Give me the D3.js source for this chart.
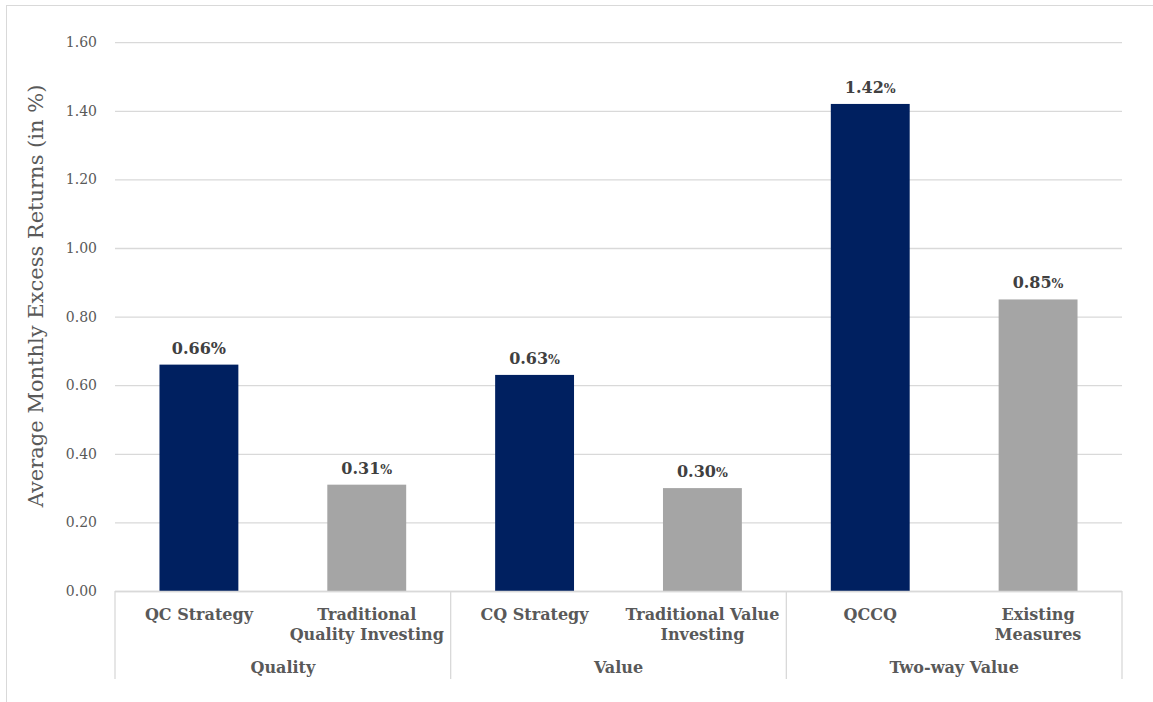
<!DOCTYPE html>
<html><head><meta charset="utf-8">
<script src="https://cdn.jsdelivr.net/npm/d3@7"></script>
<style>
html,body{margin:0;padding:0;background:#fff;}
svg text{font-family:"DejaVu Serif",Georgia,serif;}
</style></head>
<body><svg id="chart" width="1153" height="702"></svg>
<script>
const categories = ["QC Strategy", "Traditional Quality Investing", "CQ Strategy", "Traditional Value Investing", "QCCQ", "Existing Measures"];
const categoryLines = [["QC Strategy"], ["Traditional", "Quality Investing"], ["CQ Strategy"], ["Traditional Value", "Investing"], ["QCCQ"], ["Existing", "Measures"]];
const groups = ["Quality", "Value", "Two-way Value"];
const groupOf = ["Quality", "Quality", "Value", "Value", "Two-way Value", "Two-way Value"];
const values = [0.66, 0.31, 0.63, 0.30, 1.42, 0.85];
const seriesType = ["new", "old", "new", "old", "new", "old"];
const smallPct = [false, true, true, true, true, true];
const yTicks = [0, 0.2, 0.4, 0.6, 0.8, 1.0, 1.2, 1.4, 1.6];
const yTitle = "Average Monthly Excess Returns (in %)";

const colors = {new: "#002060", old: "#a5a5a5"};
const svg = d3.select("#chart");
const L = 115, R = 1122, T = 42.2, B = 591;

// outer border
svg.append("rect").attr("x", 6.5).attr("y", 5.5).attr("width", 1160).attr("height", 710)
  .attr("fill", "none").attr("stroke", "#d9d9d9").attr("stroke-width", 1);

const x = d3.scaleBand().domain(categories).range([L, R]).paddingInner(0.53).paddingOuter(0.265);
const xg = d3.scaleBand().domain(groups).range([L, R]);
const y = d3.scaleLinear().domain([0, 1.6]).range([B, T]);

// gridlines + y labels via axis
const yAxis = d3.axisLeft(y).tickValues(yTicks).tickFormat(d3.format(".2f")).tickSize(-(R - L)).tickPadding(18);
const ga = svg.append("g").attr("transform", `translate(${L},0)`).call(yAxis);
ga.select(".domain").remove();
ga.selectAll(".tick line").attr("stroke", "#d9d9d9").attr("stroke-width", 1.3);
ga.selectAll(".tick text").attr("fill", "#595959").attr("font-size", 14).attr("font-family", "DejaVu Serif");

// y title
svg.append("text").attr("transform", `translate(43,296) rotate(-90)`)
  .attr("text-anchor", "middle").attr("fill", "#595959").attr("font-size", 21).text(yTitle);

// bars
svg.selectAll("rect.bar").data(categories).enter().append("rect").attr("class", "bar")
  .attr("x", d => x(d)).attr("width", x.bandwidth())
  .attr("y", (d, i) => y(values[i])).attr("height", (d, i) => y(0) - y(values[i]))
  .attr("fill", (d, i) => colors[seriesType[i]]);

// labels
categories.forEach((c, i) => {
  const cx = x(c) + x.bandwidth() / 2;
  const ty = y(values[i]) - 11;
  const g = svg.append("g");
  const t = g.append("text").attr("x", cx).attr("y", ty).attr("text-anchor", "middle")
    .attr("font-weight", "bold").attr("font-size", 16).attr("fill", "#404040");
  t.append("tspan").text(values[i].toFixed(2));
  t.append("tspan").attr("font-size", smallPct[i] ? 12.5 : 16).text("%");
  const bb = t.node().getBBox();
  g.insert("rect", "text").attr("x", bb.x - 4).attr("y", bb.y - 2).attr("width", bb.width + 8).attr("height", bb.height + 4).attr("fill", "#fff");
});

// category axis (table)
const axisG = svg.append("g");
axisG.append("line").attr("x1", L).attr("x2", R).attr("y1", B + 0.5).attr("y2", B + 0.5).attr("stroke", "#d9d9d9").attr("stroke-width", 1.3);
const bounds = groups.map(g => xg(g)).concat([R]);
bounds.forEach(bx => axisG.append("line").attr("x1", bx).attr("x2", bx).attr("y1", B).attr("y2", 679)
  .attr("stroke", "#d9d9d9").attr("stroke-width", 1.3));

categories.forEach((c, i) => {
  const cx = x(c) + x.bandwidth() / 2;
  const t = axisG.append("text").attr("text-anchor", "middle").attr("font-weight", "bold")
    .attr("font-size", 16).attr("fill", "#595959");
  categoryLines[i].forEach((ln, j) => t.append("tspan").attr("x", cx).attr("y", 620 + j * 20).text(ln));
});
groups.forEach(g => {
  axisG.append("text").attr("x", xg(g) + xg.bandwidth() / 2).attr("y", 673).attr("text-anchor", "middle")
    .attr("font-weight", "bold").attr("font-size", 16).attr("fill", "#595959").text(g);
});
</script></body></html>
